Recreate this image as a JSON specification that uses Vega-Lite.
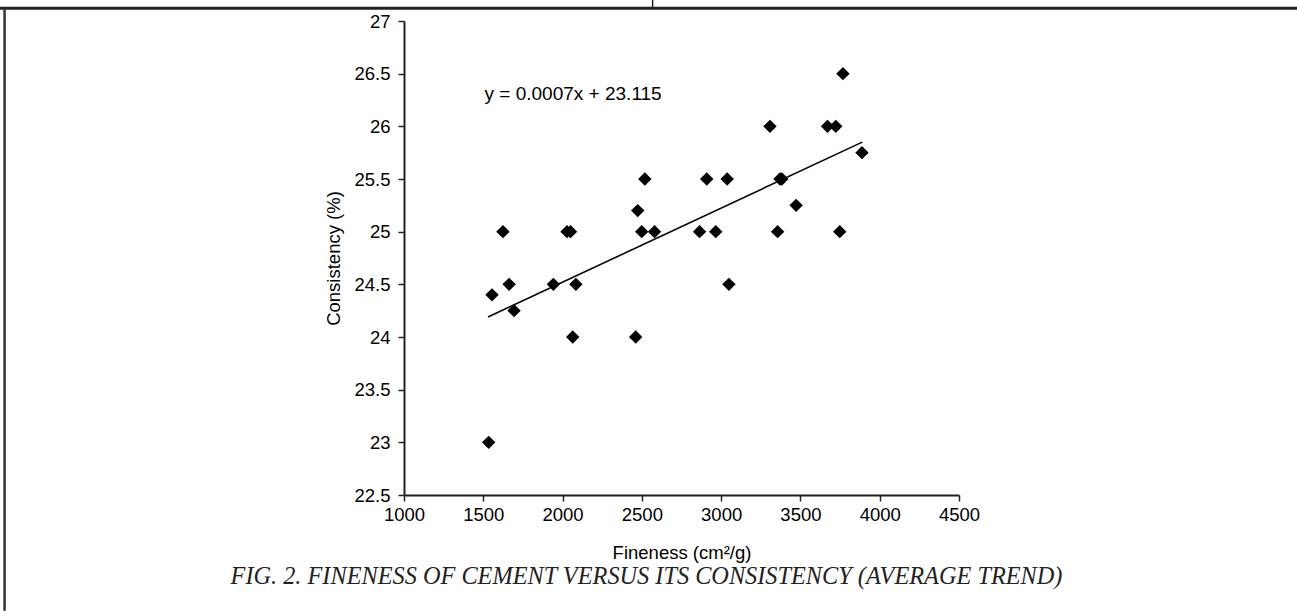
{
  "$schema": "https://vega.github.io/schema/vega-lite/v6.json",
  "width": 555,
  "height": 474,
  "autosize": {"type": "none"},
  "padding": {"left": 404, "top": 21, "right": 338, "bottom": 116},
  "background": "white",
  "config": {
    "view": {"stroke": null},
    "axis": {
      "labelFont": "Liberation Sans",
      "labelFontSize": 18.5,
      "labelColor": "#000",
      "labelFlush": false,
      "titleFont": "Liberation Sans",
      "titleFontSize": 18.5,
      "titleFontWeight": "normal",
      "titleColor": "#000",
      "domainColor": "#222",
      "domainWidth": 2,
      "tickColor": "#222",
      "tickWidth": 1.5,
      "tickSize": 6,
      "grid": false
    }
  },
  "title": {
    "text": "FIG. 2. FINENESS OF CEMENT VERSUS ITS CONSISTENCY (AVERAGE TREND)",
    "orient": "bottom",
    "anchor": "middle",
    "font": "Liberation Serif",
    "fontStyle": "italic",
    "fontWeight": "normal",
    "fontSize": 24.3,
    "color": "#222",
    "dx": -35,
    "offset": -47
  },
  "datasets": {
    "points": [
      {"fineness": 1534, "consistency": 23.0},
      {"fineness": 1555, "consistency": 24.4},
      {"fineness": 1624, "consistency": 25.0},
      {"fineness": 1663, "consistency": 24.5},
      {"fineness": 1694, "consistency": 24.25},
      {"fineness": 1942, "consistency": 24.5},
      {"fineness": 2028, "consistency": 25.0},
      {"fineness": 2050, "consistency": 25.0},
      {"fineness": 2064, "consistency": 24.0},
      {"fineness": 2084, "consistency": 24.5},
      {"fineness": 2461, "consistency": 24.0},
      {"fineness": 2474, "consistency": 25.2},
      {"fineness": 2499, "consistency": 25.0},
      {"fineness": 2519, "consistency": 25.5},
      {"fineness": 2580, "consistency": 25.0},
      {"fineness": 2864, "consistency": 25.0},
      {"fineness": 2909, "consistency": 25.5},
      {"fineness": 2966, "consistency": 25.0},
      {"fineness": 3038, "consistency": 25.5},
      {"fineness": 3049, "consistency": 24.5},
      {"fineness": 3308, "consistency": 26.0},
      {"fineness": 3356, "consistency": 25.0},
      {"fineness": 3371, "consistency": 25.5},
      {"fineness": 3383, "consistency": 25.5},
      {"fineness": 3473, "consistency": 25.25},
      {"fineness": 3671, "consistency": 26.0},
      {"fineness": 3723, "consistency": 26.0},
      {"fineness": 3748, "consistency": 25.0},
      {"fineness": 3768, "consistency": 26.5},
      {"fineness": 3888, "consistency": 25.75}
    ],
    "trend": [
      {"fineness": 1530, "consistency": 24.19},
      {"fineness": 3890, "consistency": 25.85}
    ],
    "label": [
      {"fineness": 1508, "consistency": 26.25, "text": "y = 0.0007x + 23.115"}
    ],
    "frame": [{}]
  },
  "layer": [
    {
      "data": {"name": "frame"},
      "mark": {"type": "rule", "color": "#222", "strokeWidth": 3},
      "encoding": {
        "x": {"datum": -1600, "type": "quantitative", "scale": {"domain": [1000, 4500], "nice": false, "zero": false}},
        "x2": {"datum": 6700},
        "y": {"datum": 27.12, "type": "quantitative", "scale": {"domain": [22.5, 27], "nice": false, "zero": false}}
      }
    },
    {
      "data": {"name": "frame"},
      "mark": {"type": "rule", "color": "#333", "strokeWidth": 2.5},
      "encoding": {
        "x": {"datum": -1519, "type": "quantitative"},
        "y": {"datum": 27.12, "type": "quantitative"},
        "y2": {"datum": 21.4}
      }
    },
    {
      "data": {"name": "frame"},
      "mark": {"type": "rule", "color": "#222", "strokeWidth": 1.5},
      "encoding": {
        "x": {"datum": 2568, "type": "quantitative"},
        "y": {"datum": 27.2, "type": "quantitative"},
        "y2": {"datum": 27.12}
      }
    },
    {
      "data": {"name": "trend"},
      "mark": {"type": "line", "color": "#000", "strokeWidth": 1.6},
      "encoding": {
        "x": {"field": "fineness", "type": "quantitative"},
        "y": {"field": "consistency", "type": "quantitative"}
      }
    },
    {
      "data": {"name": "points"},
      "mark": {"type": "point", "shape": "diamond", "filled": true, "color": "#000", "opacity": 1, "size": 180},
      "encoding": {
        "x": {
          "field": "fineness", "type": "quantitative",
          "scale": {"domain": [1000, 4500], "nice": false, "zero": false},
          "axis": {"values": [1000, 1500, 2000, 2500, 3000, 3500, 4000, 4500], "format": "d", "title": "Fineness (cm²/g)", "labelPadding": 4, "titlePadding": 20}
        },
        "y": {
          "field": "consistency", "type": "quantitative",
          "scale": {"domain": [22.5, 27], "nice": false, "zero": false},
          "axis": {"values": [22.5, 23, 23.5, 24, 24.5, 25, 25.5, 26, 26.5, 27], "format": "~g", "title": "Consistency (%)", "labelPadding": 8, "titlePadding": 10}
        }
      }
    },
    {
      "data": {"name": "label"},
      "mark": {"type": "text", "align": "left", "baseline": "alphabetic", "font": "Liberation Sans", "fontSize": 19, "color": "#000"},
      "encoding": {
        "x": {"field": "fineness", "type": "quantitative"},
        "y": {"field": "consistency", "type": "quantitative"},
        "text": {"field": "text"}
      }
    }
  ]
}
